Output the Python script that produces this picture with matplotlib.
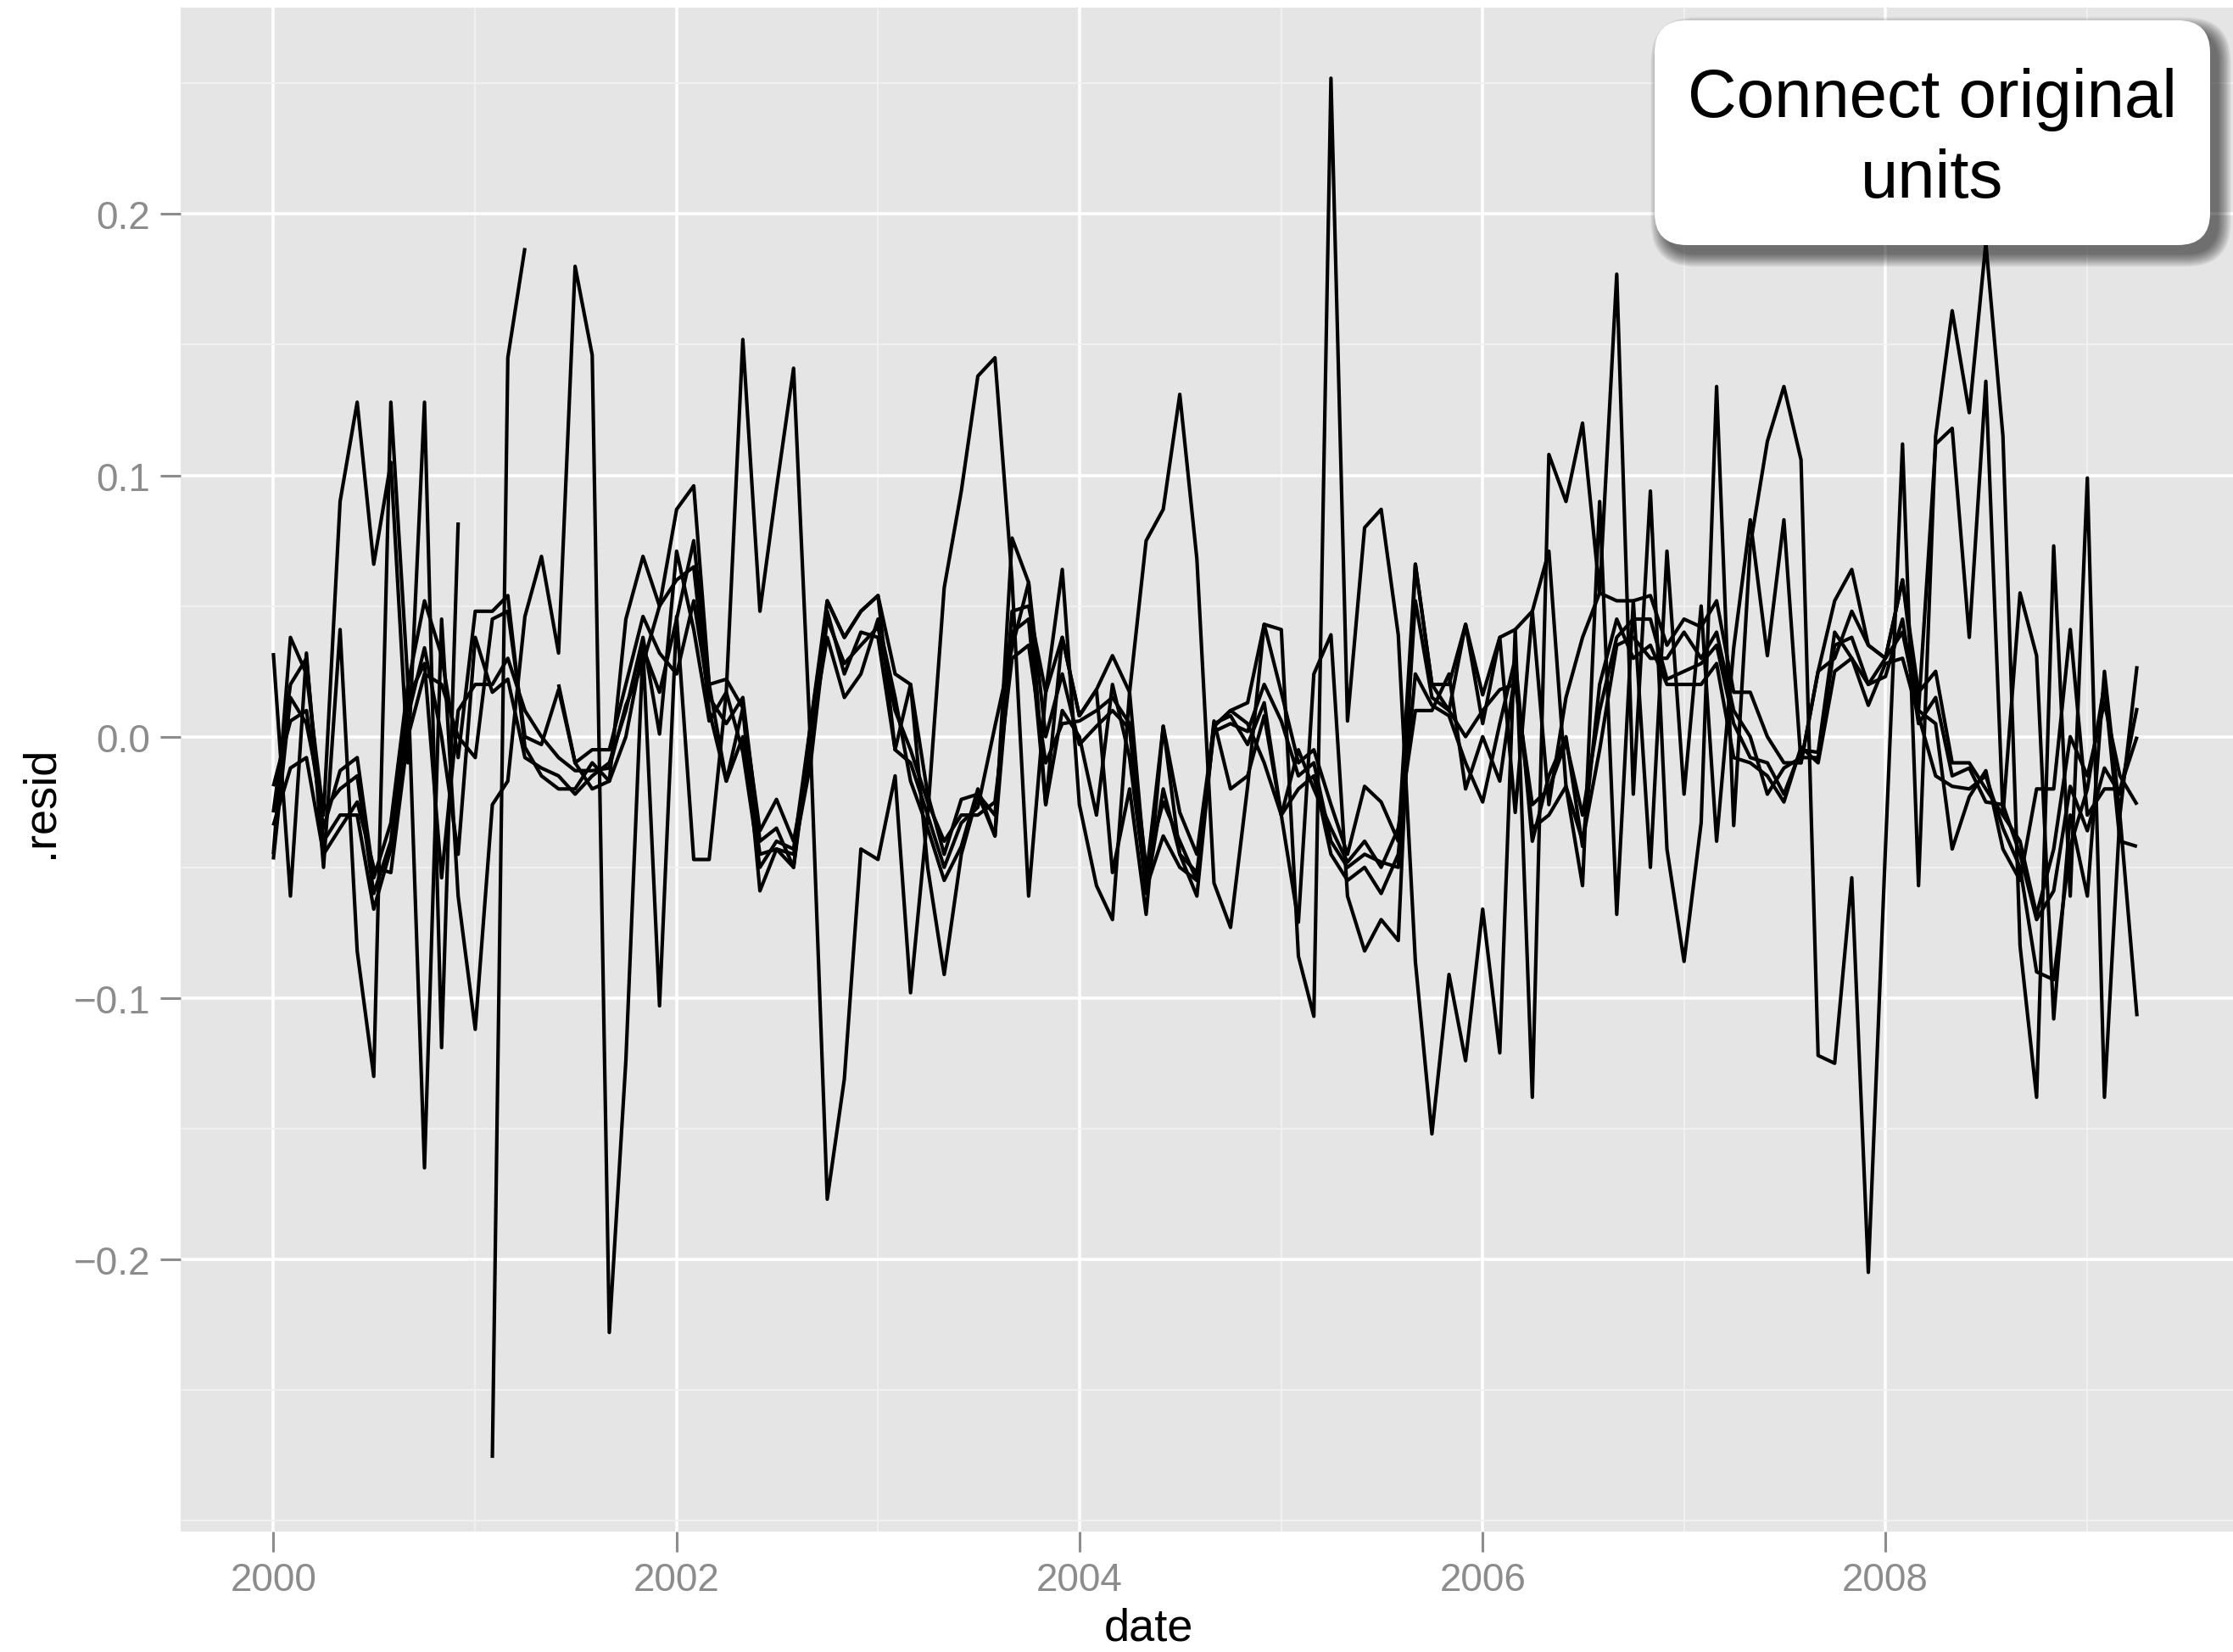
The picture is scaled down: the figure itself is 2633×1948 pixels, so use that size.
'''
plot.py

Monthly residuals for six series, drawn as black lines over a grey panel,
with a callout box in the top right corner.
'''

import datetime as dt

import matplotlib.pyplot as plt
import numpy as np
import pandas as pd
from matplotlib.patches import FancyBboxPatch

nan = np.nan

# one value per month, Jan 2000 .. Apr 2009 (one row per year)
resid_a = [
    0.032, -0.061, 0.032, -0.05, 0.041, -0.082, -0.13, 0.128, 0.02, -0.165, 0.045, -0.061,
    -0.112, -0.026, -0.017, 0.046, 0.069, 0.032, 0.18, 0.146, -0.228, -0.124, 0.034, -0.103,
    0.046, -0.047, -0.047, 0.017, 0.152, 0.048, 0.095, 0.141, -0.005, -0.177, -0.131, -0.043,
    -0.047, -0.015, -0.098, -0.03, 0.057, 0.094, 0.138, 0.145, 0.06, -0.061, 0.017, 0.064,
    -0.026, -0.057, -0.07, 0.017, 0.075, 0.087, 0.131, 0.068, -0.056, -0.073, -0.019, 0.043,
    0.041, -0.084, -0.107, 0.252, 0.006, 0.08, 0.087, 0.039, -0.086, -0.152, -0.091, -0.124,
    -0.066, -0.121, 0.041, -0.138, 0.108, 0.09, 0.12, 0.055, 0.177, -0.022, 0.094, -0.043,
    -0.086, -0.033, 0.134, -0.034, 0.073, 0.113, 0.134, 0.106, -0.122, -0.125, -0.054, -0.205,
    -0.043, 0.112, -0.057, 0.115, 0.163, 0.124, 0.189, 0.115, -0.08, -0.138, 0.073, -0.061,
    0.099, -0.138, -0.03, -0.107,
]
resid_b = [
    -0.045, 0.038, 0.024, -0.03, 0.09, 0.128, 0.066, 0.105, -0.01, 0.128, -0.119, 0.082,
    nan, -0.276, 0.145, 0.187, nan, 0.02, -0.01, -0.02, -0.017, 0.045, 0.069, 0.05,
    0.087, 0.096, 0.02, -0.017, 0.011, -0.059, -0.043, -0.05, 0.005, 0.052, 0.038, 0.048,
    0.054, -0.005, 0.02, -0.05, -0.091, -0.045, -0.022, -0.038, 0.076, 0.059, -0.026, 0.038,
    0.008, 0.018, -0.052, -0.02, -0.068, 0.004, -0.045, -0.061, 0.004, 0.01, 0.005, -0.01,
    -0.03, -0.071, 0.024, 0.039, -0.061, -0.082, -0.07, -0.078, 0.066, 0.02, 0.01, 0.043,
    0.005, 0.038, -0.029, 0.048, 0.071, -0.019, -0.057, 0.09, -0.068, 0.052, -0.05, 0.071,
    -0.022, 0.05, -0.04, 0.034, 0.083, 0.031, 0.083, -0.01, 0.025, 0.052, 0.064, 0.035,
    0.03, 0.06, 0.01, 0.112, 0.118, 0.038, 0.136, -0.03, 0.055, 0.031, -0.108, -0.03,
    -0.061, 0.025, -0.03, 0.027,
]
resid_c = [
    -0.019, 0.006, 0.01, -0.035, -0.013, -0.008, -0.054, -0.033, 0.02, 0.052, 0.031, -0.008,
    0.048, 0.048, 0.054, -0.004, -0.015, -0.02, -0.02, -0.01, -0.017, 0.0, 0.034, 0.017,
    0.045, 0.075, 0.02, 0.022, 0.011, -0.036, -0.024, -0.04, -0.005, 0.052, 0.038, 0.048,
    0.054, 0.024, 0.02, -0.022, -0.045, -0.024, -0.022, -0.03, 0.048, 0.05, 0.017, 0.038,
    0.008, 0.018, 0.031, 0.017, -0.054, 0.004, -0.029, -0.045, 0.004, 0.01, 0.013, 0.043,
    0.017, -0.01, -0.005, -0.026, -0.045, -0.019, -0.025, -0.04, 0.066, 0.02, 0.02, 0.043,
    0.016, 0.038, 0.041, 0.048, -0.026, 0.015, 0.038, 0.055, 0.052, 0.052, 0.054, 0.035,
    0.045, 0.042, 0.052, 0.017, 0.017, 0.0, -0.01, -0.01, 0.025, 0.03, 0.048, 0.035,
    0.03, 0.06, 0.017, 0.025, -0.01, -0.01, -0.02, -0.03, -0.04, -0.068, -0.043, 0.0,
    -0.015, 0.013, -0.015, -0.026,
]
resid_d = [
    -0.029, 0.02, 0.03, -0.04, -0.03, -0.03, -0.066, -0.043, 0.008, 0.034, 0.0, -0.045,
    0.038, 0.017, 0.022, -0.008, -0.012, -0.015, -0.022, -0.015, -0.01, 0.01, 0.038, 0.001,
    0.071, 0.041, 0.006, 0.017, -0.006, -0.05, -0.04, -0.043, 0.005, 0.048, 0.024, 0.04,
    0.038, -0.005, -0.01, -0.03, -0.05, -0.033, -0.027, 0.004, 0.034, 0.059, 0.0, 0.024,
    -0.003, 0.004, 0.01, 0.003, -0.06, -0.02, -0.045, -0.052, 0.002, 0.005, 0.002, 0.02,
    0.006, -0.015, -0.01, -0.04, -0.05, -0.045, -0.048, -0.05, 0.052, 0.015, 0.01, 0.0,
    0.01, 0.018, 0.02, -0.026, -0.02, -0.002, -0.03, 0.01, 0.038, 0.045, 0.045, 0.022,
    0.025, 0.028, 0.035, 0.005, -0.008, -0.01, -0.022, -0.005, -0.006, 0.04, 0.03, 0.02,
    0.023, 0.045, 0.005, 0.015, -0.015, -0.012, -0.025, -0.026, -0.045, -0.07, -0.059, -0.019,
    -0.036, -0.012, -0.022, 0.011,
]
resid_e = [
    -0.034, -0.012, -0.008, -0.045, -0.035, -0.025, -0.05, -0.052, 0.0, 0.024, 0.02, 0.0,
    -0.008, 0.045, 0.048, 0.0, -0.003, 0.018, -0.01, -0.005, -0.005, 0.02, 0.046, 0.032,
    0.024, 0.052, 0.015, 0.005, 0.015, -0.04, -0.035, -0.05, 0.0, 0.038, 0.015, 0.024,
    0.045, 0.015, -0.017, -0.035, -0.055, -0.042, -0.02, -0.038, 0.04, 0.045, -0.026, 0.01,
    0.0, -0.03, 0.02, -0.008, -0.058, -0.038, -0.05, -0.055, 0.005, 0.008, -0.003, 0.013,
    -0.03, -0.02, -0.015, -0.045, -0.055, -0.05, -0.06, -0.045, 0.024, 0.012, 0.008, -0.01,
    -0.025, 0.005, 0.03, -0.04, -0.015, 0.0, -0.042, 0.02, 0.045, 0.03, 0.035, 0.02,
    0.02, 0.02, 0.028, -0.008, -0.01, -0.015, -0.025, -0.004, -0.01, 0.025, 0.03, 0.012,
    0.028, 0.03, 0.008, -0.015, -0.019, -0.02, -0.015, -0.035, -0.05, -0.09, -0.093, -0.042,
    -0.02, 0.02, -0.04, -0.042,
]
resid_f = [
    -0.047, 0.015, 0.005, -0.028, -0.02, -0.015, -0.06, -0.04, 0.015, 0.028, -0.054, 0.01,
    0.02, 0.02, 0.03, 0.01, 0.0, -0.008, -0.013, -0.013, -0.012, 0.012, 0.028, 0.05,
    0.06, 0.065, 0.01, -0.017, 0.0, -0.045, -0.043, -0.045, -0.01, 0.045, 0.028, 0.035,
    0.042, 0.01, -0.005, -0.025, -0.04, -0.03, -0.03, -0.025, 0.03, 0.035, -0.01, 0.005,
    0.006, 0.01, 0.015, 0.005, -0.05, -0.025, -0.04, -0.055, 0.006, -0.02, -0.015, 0.008,
    -0.03, -0.005, -0.02, -0.035, -0.048, -0.04, -0.05, -0.035, 0.01, 0.01, 0.024, -0.02,
    0.0, -0.017, 0.025, -0.035, -0.03, -0.019, -0.04, -0.005, 0.035, 0.038, 0.03, 0.03,
    0.04, 0.03, 0.04, 0.01, 0.0, -0.022, -0.012, -0.008, -0.008, 0.035, 0.038, 0.02,
    0.03, 0.04, 0.01, 0.005, -0.043, -0.023, -0.013, -0.043, -0.055, -0.02, -0.02, 0.041,
    -0.03, -0.02, -0.02, 0.0,
]

major_years = [2000, 2002, 2004, 2006, 2008]
minor_years = [2001, 2003, 2005, 2007, 2009]
y_major = [-0.2, -0.1, 0.0, 0.1, 0.2]
y_minor = [-0.3, -0.25, -0.15, -0.05, 0.05, 0.15, 0.25]

callout = ['Connect original', 'units']

PANEL = '#e5e5e5'
GRID_MINOR = '#f2f2f2'
AXIS_GREY = '#8c8c8c'


def draw_callout(fig, lines):
    # box geometry in inches from the figure's lower left corner
    x0, y0, w, h = 19.51, 16.59, 6.55, 2.65
    rounding = 0.38

    # soft drop shadow: stacked translucent boxes, shifted down and right
    for k in range(9):
        grow = 0.018 * k
        shadow = FancyBboxPatch(
            (x0 + 0.10 - grow, y0 - 0.11 - grow), w + 2 * grow, h + 2 * grow,
            boxstyle=f'round,pad=0,rounding_size={rounding + grow}',
            transform=fig.dpi_scale_trans, facecolor='black',
            edgecolor='none', alpha=0.075, zorder=9)
        fig.add_artist(shadow)

    box = FancyBboxPatch(
        (x0, y0), w, h,
        boxstyle=f'round,pad=0,rounding_size={rounding}',
        transform=fig.dpi_scale_trans, facecolor='white',
        edgecolor='none', zorder=10)
    fig.add_artist(box)

    for text, base in zip(lines, [18.11, 17.16]):
        fig.text(x0 + w / 2, base, text, transform=fig.dpi_scale_trans,
                 ha='center', va='baseline', fontsize=57.5, color='black',
                 zorder=11)


def main():
    plt.rcParams['font.family'] = ['Liberation Sans', 'DejaVu Sans']

    dates = pd.date_range('2000-01-01', periods=len(resid_a), freq='MS')
    series = [resid_a, resid_b, resid_c, resid_d, resid_e, resid_f]

    fig = plt.figure(figsize=(26.33, 19.49), dpi=100)
    ax = fig.add_axes([213 / 2633, 1 - 1807 / 1949,
                       (2633 - 213) / 2633, (1807 - 10) / 1949])
    ax.set_facecolor(PANEL)
    for spine in ax.spines.values():
        spine.set_visible(False)

    for vals in series:
        ax.plot(dates, vals, color='black', lw=3.0,
                solid_joinstyle='round', solid_capstyle='butt')

    ax.set_xlim(dt.datetime(1999, 7, 17), dt.datetime(2009, 9, 22))
    ax.set_ylim(-0.3042, 0.279)

    ax.set_xticks([dt.datetime(y, 1, 1) for y in major_years])
    ax.set_xticks([dt.datetime(y, 1, 1) for y in minor_years], minor=True)
    ax.set_xticklabels([str(y) for y in major_years])
    ax.set_yticks(y_major)
    ax.set_yticks(y_minor, minor=True)
    ax.set_yticklabels([f'{v:.1f}'.replace('-', '\u2212') for v in y_major])

    ax.set_axisbelow(True)
    ax.grid(which='major', color='white', lw=2.6)
    ax.grid(which='minor', color=GRID_MINOR, lw=1.3)

    ax.tick_params(which='major', length=17, width=2.2, color=AXIS_GREY,
                   labelcolor=AXIS_GREY, labelsize=33)
    ax.tick_params(axis='x', which='major', pad=8.5)
    ax.tick_params(axis='y', which='major', pad=9)
    ax.tick_params(which='minor', length=0)

    ax.set_xlabel('date', fontsize=39, color='black')
    ax.xaxis.set_label_coords(0.4715, -0.0634)
    ax.xaxis.label.set_va('center')
    ax.set_ylabel('.resid', fontsize=39, color='black')
    ax.yaxis.set_label_coords(-0.0682, 0.479)
    ax.yaxis.label.set_va('center')

    draw_callout(fig, callout)

    fig.savefig('out.png', dpi=100)


if __name__ == '__main__':
    main()
